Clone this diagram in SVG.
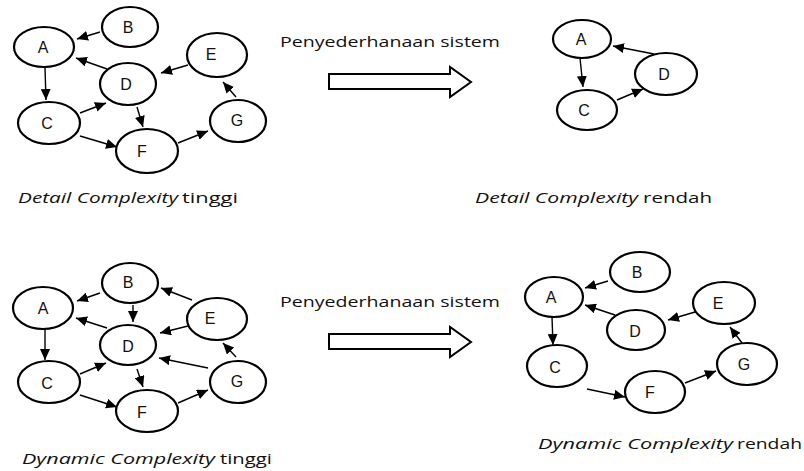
<svg xmlns="http://www.w3.org/2000/svg" width="804" height="471" viewBox="0 0 804 471">
<style>
.n ellipse{fill:#fff;stroke:#000;stroke-width:2.2}
.n text{font-family:"Liberation Sans",Arial,sans-serif;font-size:16px;text-anchor:middle;dominant-baseline:central;fill:#111}
.e line{stroke:#000;stroke-width:1.4;marker-end:url(#ah)}
.t{font-family:"Open Sans","Liberation Sans",sans-serif;font-size:15px;fill:#111}
.i{font-style:italic}
.blk{fill:#fff;stroke:#000;stroke-width:2;stroke-linejoin:miter}
</style>
<defs>
<marker id="ah" markerUnits="userSpaceOnUse" markerWidth="12" markerHeight="10" refX="11" refY="5" orient="auto">
<path d="M0,0 L11,5 L0,10 z" fill="#000"/>
</marker>
</defs>
<rect width="804" height="471" fill="#fff"/>

<!-- Top-left -->
<g class="e" id="tl-edges">
<line x1="100" y1="32" x2="77" y2="39"/>
<line x1="107" y1="69" x2="76" y2="58"/>
<line x1="45" y1="68" x2="46" y2="100"/>
<line x1="188" y1="65" x2="161" y2="73"/>
<line x1="80" y1="113" x2="106" y2="103"/>
<line x1="137" y1="107" x2="143" y2="127"/>
<line x1="80" y1="136" x2="117" y2="147"/>
<line x1="178" y1="143" x2="208" y2="131"/>
<line x1="236" y1="97" x2="223" y2="82"/>
</g>
<g class="n" id="tl-A"><ellipse cx="44" cy="47" rx="30" ry="20"/><text x="43" y="47">A</text></g>
<g class="n" id="tl-B"><ellipse cx="130" cy="27" rx="28" ry="20"/><text x="128" y="27">B</text></g>
<g class="n" id="tl-D"><ellipse cx="128" cy="84" rx="28" ry="21"/><text x="126" y="84">D</text></g>
<g class="n" id="tl-E"><ellipse cx="217" cy="55" rx="30" ry="22"/><text x="211" y="54">E</text></g>
<g class="n" id="tl-C"><ellipse cx="49" cy="123" rx="31" ry="21"/><text x="47" y="123">C</text></g>
<g class="n" id="tl-F"><ellipse cx="147" cy="151" rx="31" ry="22"/><text x="142" y="151">F</text></g>
<g class="n" id="tl-G"><ellipse cx="238" cy="121" rx="28" ry="21"/><text x="237" y="120">G</text></g>

<!-- Top middle -->
<text class="t" x="280" y="47" textLength="220" lengthAdjust="spacingAndGlyphs">Penyederhanaan sistem</text>
<polygon class="blk" id="arrow-top" points="329,74 450,74 450,67 471,82 450,97 450,89 329,89"/>

<!-- Top-right -->
<g class="e" id="tr-edges">
<line x1="580" y1="58" x2="583" y2="87"/>
<line x1="654" y1="54" x2="613" y2="46"/>
<line x1="617" y1="100" x2="643" y2="89"/>
</g>
<g class="n" id="tr-A"><ellipse cx="582" cy="39" rx="29" ry="19"/><text x="581" y="39">A</text></g>
<g class="n" id="tr-C"><ellipse cx="587" cy="110" rx="30" ry="20"/><text x="584" y="110">C</text></g>
<g class="n" id="tr-D"><ellipse cx="666" cy="74" rx="31" ry="21"/><text x="664" y="74">D</text></g>

<text class="t i" x="18" y="203" textLength="160" lengthAdjust="spacingAndGlyphs">Detail Complexity</text>
<text class="t" x="182" y="203" textLength="56" lengthAdjust="spacingAndGlyphs">tinggi</text>
<text class="t i" x="475" y="203" textLength="163" lengthAdjust="spacingAndGlyphs">Detail Complexity</text>
<text class="t" x="643" y="203" textLength="69" lengthAdjust="spacingAndGlyphs">rendah</text>

<!-- Bottom-left -->
<g class="e" id="bl-edges">
<line x1="100" y1="293" x2="77" y2="301"/>
<line x1="133" y1="305" x2="133" y2="322"/>
<line x1="192" y1="300" x2="161" y2="288"/>
<line x1="188" y1="326" x2="160" y2="333"/>
<line x1="107" y1="328" x2="76" y2="318"/>
<line x1="45" y1="328" x2="45" y2="360"/>
<line x1="80" y1="374" x2="106" y2="363"/>
<line x1="137" y1="369" x2="143" y2="387"/>
<line x1="80" y1="395" x2="117" y2="407"/>
<line x1="178" y1="403" x2="208" y2="390"/>
<line x1="208" y1="368" x2="159" y2="358"/>
<line x1="236" y1="357" x2="223" y2="343"/>
</g>
<g class="n" id="bl-A"><ellipse cx="43" cy="308" rx="30" ry="21"/><text x="43" y="308">A</text></g>
<g class="n" id="bl-B"><ellipse cx="130" cy="283" rx="28" ry="20"/><text x="128" y="282">B</text></g>
<g class="n" id="bl-D"><ellipse cx="128" cy="345" rx="28" ry="20"/><text x="128" y="346">D</text></g>
<g class="n" id="bl-E"><ellipse cx="217" cy="319" rx="30" ry="21"/><text x="210" y="318">E</text></g>
<g class="n" id="bl-C"><ellipse cx="49" cy="382" rx="31" ry="21"/><text x="47" y="383">C</text></g>
<g class="n" id="bl-F"><ellipse cx="147" cy="411" rx="31" ry="21"/><text x="142" y="412">F</text></g>
<g class="n" id="bl-G"><ellipse cx="238" cy="382" rx="28" ry="21"/><text x="237" y="381">G</text></g>

<!-- Bottom middle -->
<text class="t" x="280" y="307" textLength="220" lengthAdjust="spacingAndGlyphs">Penyederhanaan sistem</text>
<polygon class="blk" id="arrow-bottom" points="329,334 450,334 450,327 471,342 450,357 450,349 329,349"/>

<!-- Bottom-right -->
<g class="e" id="br-edges">
<line x1="608" y1="281" x2="585" y2="288"/>
<line x1="615" y1="315" x2="585" y2="305"/>
<line x1="552" y1="317" x2="553" y2="345"/>
<line x1="695" y1="312" x2="668" y2="320"/>
<line x1="587" y1="389" x2="625" y2="397"/>
<line x1="685" y1="383" x2="716" y2="371"/>
<line x1="742" y1="343" x2="730" y2="327"/>
</g>
<g class="n" id="br-B"><ellipse cx="640" cy="272" rx="30" ry="20"/><text x="637" y="272">B</text></g>
<g class="n" id="br-A"><ellipse cx="554" cy="297" rx="29" ry="20"/><text x="551" y="297">A</text></g>
<g class="n" id="br-E"><ellipse cx="724" cy="303" rx="31" ry="21"/><text x="718" y="303">E</text></g>
<g class="n" id="br-D"><ellipse cx="636" cy="330" rx="29" ry="20"/><text x="635" y="331">D</text></g>
<g class="n" id="br-C"><ellipse cx="557" cy="366" rx="30" ry="21"/><text x="555" y="367">C</text></g>
<g class="n" id="br-G"><ellipse cx="747" cy="364" rx="30" ry="21"/><text x="744" y="364">G</text></g>
<g class="n" id="br-F"><ellipse cx="655" cy="392" rx="30" ry="21"/><text x="650" y="392">F</text></g>

<text class="t i" x="22" y="464" textLength="193" lengthAdjust="spacingAndGlyphs">Dynamic Complexity</text>
<text class="t" x="220" y="464" textLength="52" lengthAdjust="spacingAndGlyphs">tinggi</text>
<text class="t i" x="538" y="449" textLength="195" lengthAdjust="spacingAndGlyphs">Dynamic Complexity</text>
<text class="t" x="737" y="449" textLength="65" lengthAdjust="spacingAndGlyphs">rendah</text>
</svg>
